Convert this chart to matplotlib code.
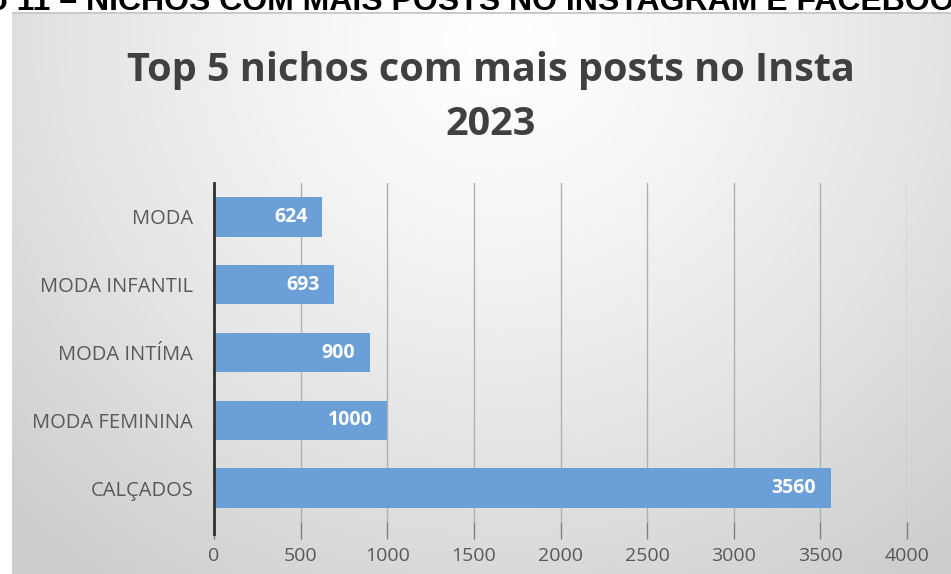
import matplotlib.pyplot as plt
import numpy as np

plt.rcParams['font.family'] = ['Open Sans', 'DejaVu Sans']

# dados do gráfico
categorias = ['CALÇADOS', 'MODA FEMININA', 'MODA INTÍMA', 'MODA INFANTIL', 'MODA']
valores = [3560, 1000, 900, 693, 624]
ticks_x = [0, 500, 1000, 1500, 2000, 2500, 3000, 3500, 4000]
titulo = 'Top 5 nichos com mais posts no Insta\n2023'
prefixo_topo = 'Gráfico 11 – '
legenda_topo = 'NICHOS COM MAIS POSTS NO INSTAGRAM E FACEBOOK'

W, H = 951, 574
fig = plt.figure(figsize=(W / 100, H / 100), dpi=100)
fig.patch.set_facecolor('white')

# fundo com gradiente (caixa do gráfico)
bg = fig.add_axes([12 / W, 0, 1 - 12 / W, (H - 12) / H])
yy, xx = np.mgrid[0:1:300j, 0:1:500j]
d = np.sqrt(((xx - 0.52) / 0.75) ** 2 + ((yy - 0.05) / 1.2) ** 2)
g = 1 - 0.2 * np.clip(d, 0, 1) ** 1.3
bg.imshow(np.dstack([g, g, g]), aspect='auto', extent=[0, 1, 0, 1], origin='upper')
bg.axhline(1, color='#c8c8c8', lw=2)
bg.set_axis_off()

# texto cortado no topo (legenda do documento)
kw = dict(fontsize=23, fontweight='bold', family='Liberation Sans', color='black',
          va='baseline')
fig.text(86 / W, 1 - 10 / H, legenda_topo, ha='left', **kw)
fig.text(86 / W, 1 - 10 / H, prefixo_topo, ha='right', **kw)

ax = fig.add_axes([214 / W, 52 / H, (907 - 214) / W, (522 - 183) / H])
ax.patch.set_alpha(0)
y = np.arange(len(categorias))
bars = ax.barh(y, valores, height=0.58, color='#6a9fd8', zorder=3)
for b, v in zip(bars, valores):
    ax.text(v - 85, b.get_y() + b.get_height() / 2, str(v), color='white',
            fontweight='bold', fontsize=14, ha='right', va='center', zorder=4)

ax.set_xlim(0, 4000)
ax.set_ylim(-0.5, len(categorias) - 0.5)
ax.set_xticks(ticks_x)
ax.set_yticks(y)
ax.set_yticklabels(categorias)
ax.grid(axis='x', color='#b0b0b0', lw=1, zorder=0)
ax.tick_params(axis='x', length=12, width=1, color='#7f7f7f', labelsize=14,
               labelcolor='#595959', pad=6)
ax.tick_params(axis='y', length=0, labelsize=14.5, labelcolor='#595959', pad=15)
for s in ['top', 'right', 'bottom']:
    ax.spines[s].set_visible(False)
ax.spines['left'].set_color('#303030')
ax.spines['left'].set_linewidth(2)
ax.spines['left'].set_bounds(-0.5 - 12 / 68, 4.5)
ax.spines['left'].set_zorder(5)

fig.text(491 / W, 1 - 97 / H, titulo, fontsize=28.5, fontweight='bold', color='#404040',
         ha='center', va='center', linespacing=1.5, family='Open Sans')

fig.savefig('out.png', dpi=100)
